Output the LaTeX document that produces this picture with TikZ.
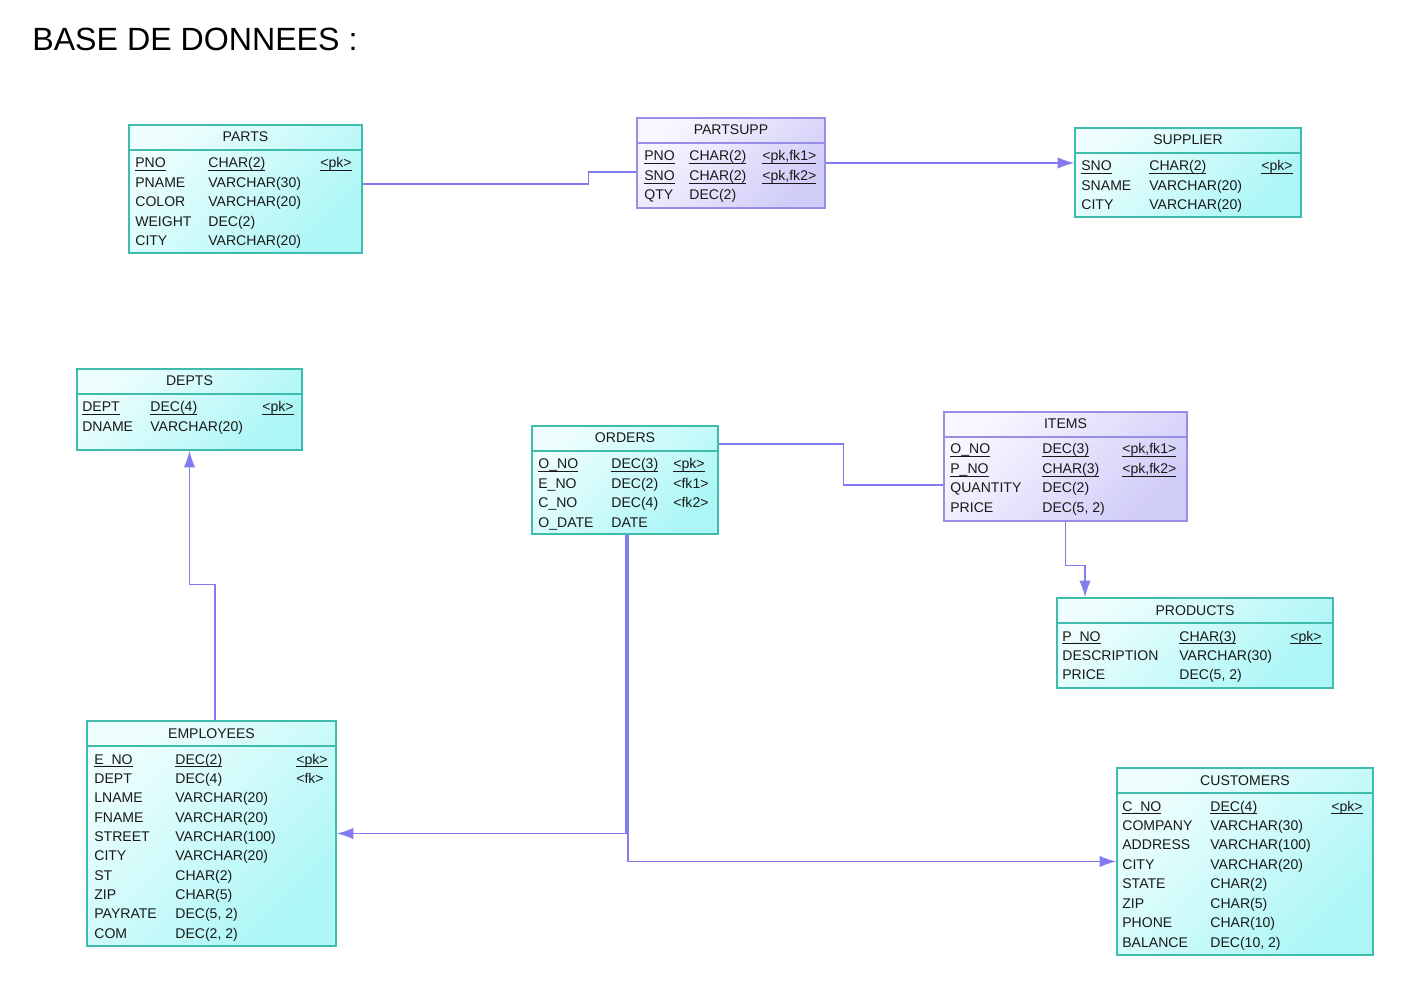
\documentclass[tikz,border=0pt]{standalone}
\usepackage{fontspec}
\setmainfont{Liberation Sans}
\usepackage{xcolor}
\usetikzlibrary{arrows.meta,fit,positioning}

\definecolor{tealline}{RGB}{64,188,172}
\definecolor{cyanhi}{RGB}{238,254,254}
\definecolor{cyanlo}{RGB}{172,246,246}
\definecolor{lavline}{RGB}{152,142,232}
\definecolor{lavhi}{RGB}{248,247,255}
\definecolor{lavlo}{RGB}{208,204,248}
\definecolor{linkcol}{RGB}{130,124,240}

\tikzset{
    cyantab/.style={draw=tealline, line width=0.8pt, top color=cyanhi, bottom color=cyanlo, shading angle=45, inner sep=0pt},
    lavtab/.style={draw=lavline, line width=0.8pt, top color=lavhi, bottom color=lavlo, shading angle=45, inner sep=0pt},
    head/.style={anchor=base, inner sep=0pt, text=black!90, font=\fontsize{8}{10}\selectfont},
    cell/.style={anchor=base west, inner sep=0pt, text=black!90, font=\fontsize{8}{10}\selectfont},
    link/.style={draw=linkcol, line width=0.8pt},
    fkarrow/.style={-{Latex[length=9.5pt,width=6.5pt]}}
}

\begin{document}
\begin{tikzpicture}[x=0.02cm, y=-0.02cm]
\useasboundingbox (0,0) rectangle (1407,986);

\node[anchor=base west, inner sep=0pt, font=\fontsize{18.3}{22}\selectfont] (title) at (32,51) {BASE DE DONNEES :};

% tables: name / style / line colour / corners / title
\foreach \nm/\sty/\lc/\xa/\ya/\xb/\yb/\ttl in {
    parts/cyantab/tealline/129/125/362/253/PARTS,
    partsupp/lavtab/lavline/637/118/825/208/PARTSUPP,
    supplier/cyantab/tealline/1075/128/1301/217/SUPPLIER,
    depts/cyantab/tealline/77/369/302/450/DEPTS,
    orders/cyantab/tealline/532/426/718/534/ORDERS,
    items/lavtab/lavline/944/412/1187/521/ITEMS,
    products/cyantab/tealline/1057/598/1333/688/PRODUCTS,
    employees/cyantab/tealline/87/721/336/946/EMPLOYEES,
    customers/cyantab/tealline/1117/768/1373/955/CUSTOMERS} {
    \node[\sty, fit={(\xa,\ya) (\xb,\yb)}] (\nm) {};
    \draw[\lc, line width=0.8pt] (\xa,\ya+25) -- (\xb,\ya+25);
    \node[head] (\nm-head) at ({(\xa+\xb)/2},\ya+17) {\ttl};
}

% columns of each table
\foreach \a/\b/\c [count=\i from 0] in {\underline{\smash{PNO}}/\underline{\smash{CHAR(2)}}/\underline{\smash{<pk>}}, PNAME/VARCHAR(30)/{}, COLOR/VARCHAR(20)/{}, WEIGHT/DEC(2)/{}, CITY/VARCHAR(20)/{}} {
    \node[cell] (parts-n\i) at (135,168+19.5*\i) {\a};
    \node[cell] (parts-t\i) at (208,168+19.5*\i) {\b};
    \node[cell] (parts-k\i) at (320,168+19.5*\i) {\c};
}
\foreach \a/\b/\c [count=\i from 0] in {\underline{\smash{PNO}}/\underline{\smash{CHAR(2)}}/{\underline{\smash{<pk,fk1>}}}, \underline{\smash{SNO}}/\underline{\smash{CHAR(2)}}/{\underline{\smash{<pk,fk2>}}}, QTY/DEC(2)/{}} {
    \node[cell] (partsupp-n\i) at (644,161+19.4*\i) {\a};
    \node[cell] (partsupp-t\i) at (689,161+19.4*\i) {\b};
    \node[cell] (partsupp-k\i) at (762,161+19.4*\i) {\c};
}
\foreach \a/\b/\c [count=\i from 0] in {\underline{\smash{SNO}}/\underline{\smash{CHAR(2)}}/\underline{\smash{<pk>}}, SNAME/VARCHAR(20)/{}, CITY/VARCHAR(20)/{}} {
    \node[cell] (supplier-n\i) at (1081,171+19.4*\i) {\a};
    \node[cell] (supplier-t\i) at (1149,171+19.4*\i) {\b};
    \node[cell] (supplier-k\i) at (1261,171+19.4*\i) {\c};
}
\foreach \a/\b/\c [count=\i from 0] in {\underline{\smash{DEPT}}/\underline{\smash{DEC(4)}}/\underline{\smash{<pk>}}, DNAME/VARCHAR(20)/{}} {
    \node[cell] (depts-n\i) at (82,412+19.4*\i) {\a};
    \node[cell] (depts-t\i) at (150,412+19.4*\i) {\b};
    \node[cell] (depts-k\i) at (262,412+19.4*\i) {\c};
}
\foreach \a/\b/\c [count=\i from 0] in {\underline{\smash{O\_NO}}/\underline{\smash{DEC(3)}}/\underline{\smash{<pk>}}, E\_NO/DEC(2)/<fk1>, C\_NO/DEC(4)/<fk2>, O\_DATE/DATE/{}} {
    \node[cell] (orders-n\i) at (538,469+19.4*\i) {\a};
    \node[cell] (orders-t\i) at (611,469+19.4*\i) {\b};
    \node[cell] (orders-k\i) at (673,469+19.4*\i) {\c};
}
\foreach \a/\b/\c [count=\i from 0] in {\underline{\smash{O\_NO}}/\underline{\smash{DEC(3)}}/{\underline{\smash{<pk,fk1>}}}, \underline{\smash{P\_NO}}/\underline{\smash{CHAR(3)}}/{\underline{\smash{<pk,fk2>}}}, QUANTITY/DEC(2)/{}, PRICE/{DEC(5, 2)}/{}} {
    \node[cell] (items-n\i) at (950,454+19.4*\i) {\a};
    \node[cell] (items-t\i) at (1042,454+19.4*\i) {\b};
    \node[cell] (items-k\i) at (1122,454+19.4*\i) {\c};
}
\foreach \a/\b/\c [count=\i from 0] in {\underline{\smash{P\_NO}}/\underline{\smash{CHAR(3)}}/\underline{\smash{<pk>}}, DESCRIPTION/VARCHAR(30)/{}, PRICE/{DEC(5, 2)}/{}} {
    \node[cell] (products-n\i) at (1062,641+19.4*\i) {\a};
    \node[cell] (products-t\i) at (1179,641+19.4*\i) {\b};
    \node[cell] (products-k\i) at (1290,641+19.4*\i) {\c};
}
\foreach \a/\b/\c [count=\i from 0] in {\underline{\smash{E\_NO}}/\underline{\smash{DEC(2)}}/\underline{\smash{<pk>}}, DEPT/DEC(4)/<fk>, LNAME/VARCHAR(20)/{}, FNAME/VARCHAR(20)/{}, STREET/VARCHAR(100)/{}, CITY/VARCHAR(20)/{}, ST/CHAR(2)/{}, ZIP/CHAR(5)/{}, PAYRATE/{DEC(5, 2)}/{}, COM/{DEC(2, 2)}/{}} {
    \node[cell] (employees-n\i) at (94,764+19.35*\i) {\a};
    \node[cell] (employees-t\i) at (175,764+19.35*\i) {\b};
    \node[cell] (employees-k\i) at (296,764+19.35*\i) {\c};
}
\foreach \a/\b/\c [count=\i from 0] in {\underline{\smash{C\_NO}}/\underline{\smash{DEC(4)}}/\underline{\smash{<pk>}}, COMPANY/VARCHAR(30)/{}, ADDRESS/VARCHAR(100)/{}, CITY/VARCHAR(20)/{}, STATE/CHAR(2)/{}, ZIP/CHAR(5)/{}, PHONE/CHAR(10)/{}, BALANCE/{DEC(10, 2)}/{}} {
    \node[cell] (customers-n\i) at (1122,811+19.43*\i) {\a};
    \node[cell] (customers-t\i) at (1210,811+19.43*\i) {\b};
    \node[cell] (customers-k\i) at (1331,811+19.43*\i) {\c};
}

% references
\draw[link] ([yshift=0.1cm]parts.east) -- ++(226,0) |- ([yshift=-0.18cm]partsupp.west);
\draw[link,fkarrow] (partsupp.east) -- (partsupp.east -| supplier.west);
\draw[link,fkarrow] ([xshift=0.07cm]employees.north) -- ++(0,-136) -| (depts.south);
\draw[link] ([yshift=0.72cm]orders.east) -- ++(125,0) |- ([yshift=-0.37cm]items.west);
\draw[link,fkarrow] (items.south) -- ++(0,44) -| ([xshift=-2.2cm]products.north);
\draw[link,fkarrow] ([xshift=0.02cm]orders.south) |- (employees.east);
\draw[link,fkarrow] ([xshift=0.06cm]orders.south) |- (customers.west);

\end{tikzpicture}
\end{document}
